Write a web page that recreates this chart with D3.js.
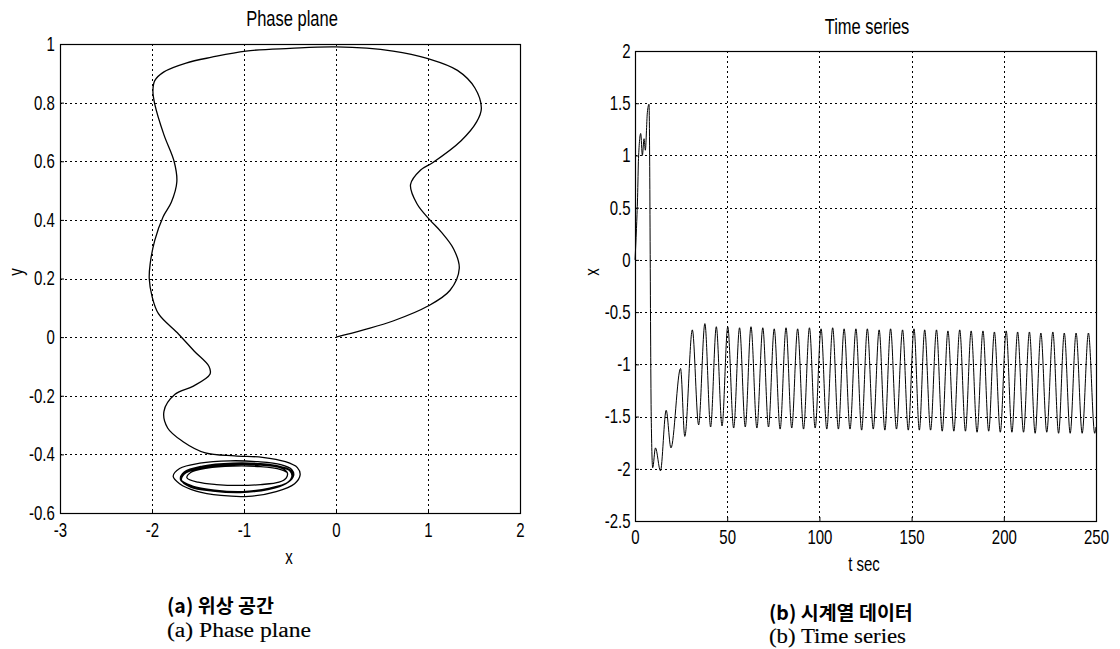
<!DOCTYPE html>
<html>
<head>
<meta charset="utf-8">
<script src="https://cdn.jsdelivr.net/npm/d3@7"></script>
<style>
  body { margin: 0; background: #fff; }
  svg { display: block; }
</style>
</head>
<body>
<svg id="fig" width="1120" height="649"></svg>
<script>
// ---- Phase plane trajectory (x, y) ----
const phaseX = [
  0.00, 0.30, 0.62, 1.00, 1.24, 1.34, 1.28, 1.14, 1.02, 0.88, 0.81, 0.92, 1.05, 1.36, 1.53, 1.58,
  1.51, 1.32, 1.00, 0.62, 0.00, -0.50, -0.98, -1.35, -1.63, -1.87, -1.97, -1.99, -1.97, -1.87,
  -1.76, -1.73, -1.79, -1.88, -1.97, -2.02, -2.03, -2.00, -1.93, -1.71, -1.54, -1.38, -1.37,
  -1.55, -1.75, -1.87, -1.83, -1.67, -1.42, -1.10, -0.80, -0.55,
  -0.42, -0.39, -0.45, -0.65, -0.95, -1.25, -1.52, -1.70, -1.77, -1.70, -1.48, -1.15, -0.85, -0.60,
  -0.48, -0.46, -0.52, -0.72, -1.02, -1.32, -1.56, -1.69, -1.65, -1.45, -1.12, -0.82, -0.60,
  -0.49, -0.47, -0.53, -0.73, -1.03, -1.33, -1.57, -1.69, -1.64, -1.44, -1.12, -0.82, -0.60,
  -0.50, -0.48, -0.54, -0.74, -1.04, -1.34, -1.58, -1.68, -1.63, -1.43, -1.12, -0.82, -0.60,
  -0.53, -0.54, -0.62, -0.82, -1.05, -1.30, -1.50, -1.62, -1.58, -1.40, -1.12, -0.82, -0.60, -0.53
];
const phaseY = [
  0.000, 0.025, 0.055, 0.106, 0.160, 0.235, 0.300, 0.360, 0.400, 0.455, 0.520, 0.570, 0.595, 0.670, 0.735, 0.780,
  0.850, 0.910, 0.950, 0.976, 0.990, 0.985, 0.976, 0.955, 0.935, 0.905, 0.875, 0.840, 0.795, 0.690,
  0.600, 0.530, 0.460, 0.410, 0.330, 0.250, 0.200, 0.140, 0.080, 0.010, -0.048, -0.100, -0.127,
  -0.167, -0.195, -0.253, -0.310, -0.355, -0.395, -0.405, -0.410, -0.425,
  -0.445, -0.470, -0.500, -0.527, -0.543, -0.540, -0.525, -0.500, -0.475, -0.448, -0.430, -0.422, -0.425, -0.435,
  -0.452, -0.472, -0.495, -0.515, -0.527, -0.522, -0.508, -0.485, -0.460, -0.440, -0.430, -0.432, -0.442,
  -0.455, -0.474, -0.497, -0.518, -0.528, -0.524, -0.510, -0.487, -0.462, -0.443, -0.433, -0.435, -0.444,
  -0.457, -0.476, -0.499, -0.520, -0.530, -0.525, -0.512, -0.488, -0.463, -0.445, -0.436, -0.437, -0.446,
  -0.462, -0.480, -0.495, -0.503, -0.506, -0.503, -0.495, -0.480, -0.462, -0.447, -0.440, -0.442, -0.452, -0.462
];
const phaseXTicks = [-3, -2, -1, 0, 1, 2];
const phaseYTicks = [-0.6, -0.4, -0.2, 0, 0.2, 0.4, 0.6, 0.8, 1];

// ---- Time series of x (t in seconds) ----
const timeT = [
  0, 0.8, 1.4, 1.9, 3.1, 4.0, 4.9, 5.6, 6.7, 7.6, 8.8, 9.6, 11.1, 13.8, 16.9, 19.5, 24.7, 27.0,
  31.1, 34.5, 37.9, 41.0, 44.1, 47.2, 50.3, 53.5, 56.7, 59.8, 62.9, 66.1, 69.3, 72.4, 75.5, 78.7,
  81.9, 85.0, 88.2, 91.4, 94.6, 97.7, 100.9, 104.0, 107.2, 110.3, 113.4, 116.6, 119.8, 122.9,
  126.0, 129.2, 132.4, 135.5, 138.6, 141.8, 145.1, 148.2, 151.3, 154.2, 157.1, 160.3, 163.5, 166.6,
  169.7, 172.9, 176.1, 179.2, 182.3, 185.5, 188.7, 191.8, 194.9, 198.1, 201.3, 204.4, 207.5, 210.7,
  213.9, 217.0, 220.1, 223.3, 226.6, 229.7, 232.8, 236.0, 239.2, 242.5, 245.9, 249.3, 250
];
const timeX = [
  0.00, 0.30, 0.60, 0.97, 1.21, 1.00, 1.16, 1.05, 1.41, 1.49, -1.50, -1.99, -1.80, -2.02, -1.44, -1.80, -1.04, -1.69,
  -0.67, -1.58, -0.61, -1.60, -0.64, -1.59, -0.64, -1.61, -0.65, -1.60, -0.64, -1.61, -0.65, -1.60, -0.66, -1.62,
  -0.65, -1.61, -0.66, -1.62, -0.65, -1.61, -0.66, -1.62, -0.65, -1.62, -0.66, -1.62, -0.66, -1.63,
  -0.66, -1.62, -0.67, -1.63, -0.66, -1.62, -0.67, -1.63, -0.66, -1.63, -0.67, -1.63, -0.67, -1.64,
  -0.68, -1.64, -0.67, -1.64, -0.68, -1.65, -0.68, -1.64, -0.69, -1.65, -0.68, -1.65, -0.69, -1.65,
  -0.69, -1.66, -0.70, -1.65, -0.69, -1.66, -0.70, -1.66, -0.70, -1.66, -0.70, -1.66, -1.60
];
const timeXTicks = [0, 50, 100, 150, 200, 250];
const timeYTicks = [-2.5, -2, -1.5, -1, -0.5, 0, 0.5, 1, 1.5, 2];

const FONT = '"Liberation Sans", Arial, Helvetica, sans-serif';
const NARROW = 'scale(0.75,1)';
const svg = d3.select('#fig');

function drawPanel(cfg) {
  const g = svg.append('g');
  const x = d3.scaleLinear().domain(cfg.xDomain).range([cfg.left, cfg.right]);
  const y = d3.scaleLinear().domain(cfg.yDomain).range([cfg.bottom, cfg.top]);

  // dotted grid
  const grid = g.append('g')
    .attr('stroke', '#000').attr('stroke-width', 1).attr('stroke-dasharray', '2,3').attr('fill', 'none');
  grid.selectAll('line.gx')
    .data(cfg.xTicks.filter(d => d > cfg.xDomain[0] && d < cfg.xDomain[1]))
    .join('line').attr('class', 'gx')
    .attr('x1', d => Math.round(x(d)) + 0.5).attr('x2', d => Math.round(x(d)) + 0.5)
    .attr('y1', cfg.top).attr('y2', cfg.bottom);
  grid.selectAll('line.gy')
    .data(cfg.yTicks.filter(d => d > cfg.yDomain[0] && d < cfg.yDomain[1]))
    .join('line').attr('class', 'gy')
    .attr('y1', d => Math.round(y(d)) + 0.5).attr('y2', d => Math.round(y(d)) + 0.5)
    .attr('x1', cfg.left).attr('x2', cfg.right);

  // axes with inward ticks
  const ax = g.append('g').attr('transform', `translate(0,${cfg.bottom})`)
    .call(d3.axisBottom(x).tickValues(cfg.xTicks).tickSizeInner(-4).tickSizeOuter(0)
      .tickPadding(cfg.xPad).tickFormat(d => String(d)));
  const ay = g.append('g').attr('transform', `translate(${cfg.left},0)`)
    .call(d3.axisLeft(y).tickValues(cfg.yTicks).tickSizeInner(-4).tickSizeOuter(0)
      .tickPadding(cfg.yPad).tickFormat(d => String(d)));
  [ax, ay].forEach(a => {
    a.attr('font-size', 20).attr('font-family', FONT);
    a.selectAll('.domain').remove();
    a.selectAll('line').attr('stroke', '#000');
    a.selectAll('text').attr('fill', '#000').attr('transform', NARROW);
  });

  // axes box
  g.append('rect')
    .attr('x', cfg.left + 0.5).attr('y', cfg.top + 0.5)
    .attr('width', cfg.right - cfg.left).attr('height', cfg.bottom - cfg.top)
    .attr('fill', 'none').attr('stroke', '#000').attr('stroke-width', 1.2);

  // data curve
  const idx = d3.range(cfg.xs.length);
  g.append('path').datum(idx)
    .attr('fill', 'none').attr('stroke', '#000').attr('stroke-width', cfg.lineWidth)
    .attr('stroke-linejoin', 'round')
    .attr('d', d3.line().x(i => x(cfg.xs[i])).y(i => y(cfg.ys[i])).curve(cfg.curve));

  // title and axis labels
  g.append('text').attr('transform', `translate(${cfg.titleX},${cfg.titleY}) ${NARROW}`)
    .attr('text-anchor', 'middle').attr('font-family', FONT).attr('font-size', 22)
    .text(cfg.title);
  g.append('text').attr('transform', `translate(${cfg.xLabelX},${cfg.xLabelY}) ${NARROW}`)
    .attr('text-anchor', 'middle').attr('font-family', FONT).attr('font-size', 20)
    .text(cfg.xLabel);
  g.append('text').attr('transform', `translate(${cfg.yLabelX},${cfg.yLabelY}) rotate(-90) ${NARROW}`)
    .attr('text-anchor', 'middle').attr('dy', '0.35em').attr('font-family', FONT).attr('font-size', 20)
    .text(cfg.yLabel);

  // captions under the panel
  g.append('text').attr('x', cfg.capX).attr('y', cfg.capY1)
    .attr('font-family', '"Noto Sans CJK KR", sans-serif').attr('font-size', 19.5).attr('font-weight', 700)
    .text(cfg.captionKo);
  g.append('text').attr('x', cfg.capX).attr('y', cfg.capY2)
    .attr('font-family', '"Liberation Serif", "Times New Roman", serif').attr('font-size', 20)
    .attr('textLength', cfg.capEnWidth).attr('lengthAdjust', 'spacingAndGlyphs')
    .attr('stroke', '#000').attr('stroke-width', 0.15)
    .text(cfg.captionEn);
}

drawPanel({
  left: 60, right: 520, top: 44, bottom: 513,
  xDomain: [-3, 2], yDomain: [-0.6, 1],
  xTicks: phaseXTicks, yTicks: phaseYTicks,
  xPad: 10, yPad: 7,
  xs: phaseX, ys: phaseY, curve: d3.curveCatmullRom.alpha(0.5), lineWidth: 1.3,
  title: 'Phase plane', titleX: 292, titleY: 26,
  xLabel: 'x', xLabelX: 289, xLabelY: 564,
  yLabel: 'y', yLabelX: 16, yLabelY: 272,
  captionKo: '(a) 위상 공간', captionEn: '(a) Phase plane', capEnWidth: 144,
  capX: 167, capY1: 613, capY2: 637
});

drawPanel({
  left: 635, right: 1096, top: 51, bottom: 521,
  xDomain: [0, 250], yDomain: [-2.5, 2],
  xTicks: timeXTicks, yTicks: timeYTicks,
  xPad: 9, yPad: 6,
  xs: timeT, ys: timeX, curve: d3.curveMonotoneX, lineWidth: 1,
  title: 'Time series', titleX: 867, titleY: 34,
  xLabel: 't sec', xLabelX: 864, xLabelY: 571,
  yLabel: 'x', yLabelX: 592, yLabelY: 272,
  captionKo: '(b) 시계열 데이터', captionEn: '(b) Time series', capEnWidth: 137,
  capX: 769, capY1: 620, capY2: 643
});
</script>
</body>
</html>
